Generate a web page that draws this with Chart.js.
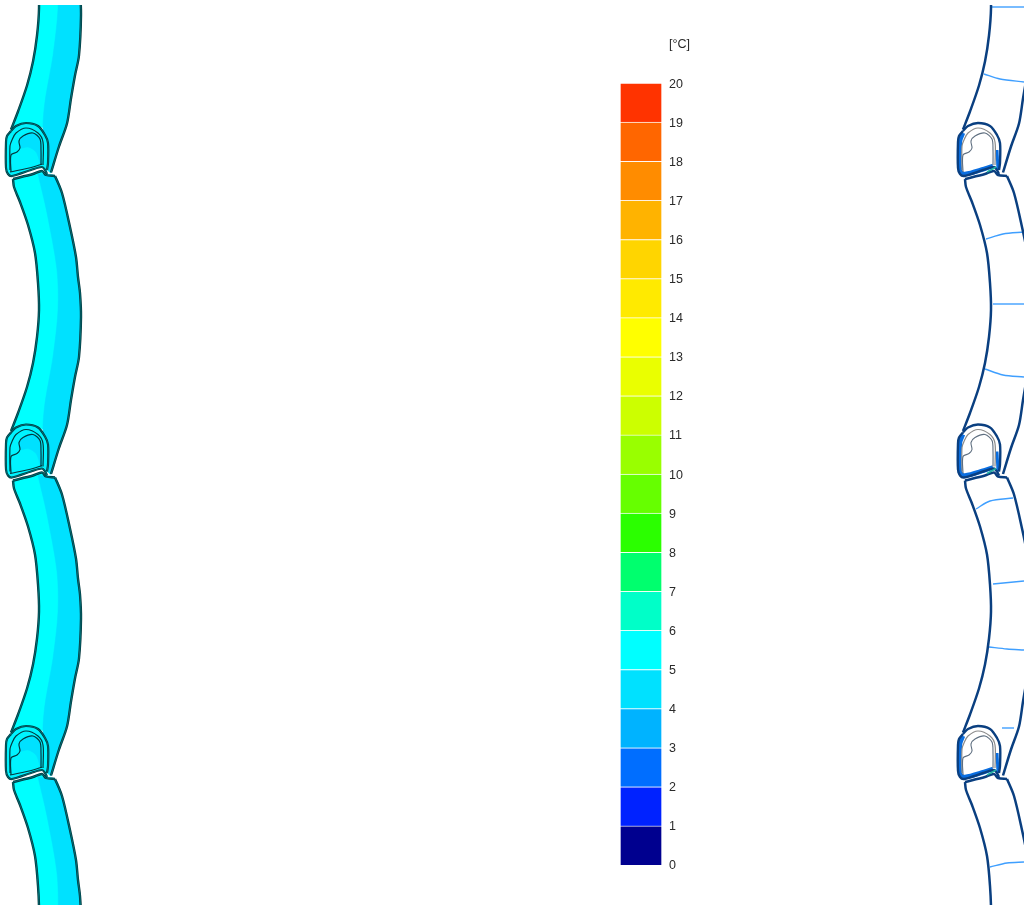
<!DOCTYPE html>
<html lang="en">
<head>
    <meta charset="UTF-8">
    <title>Temperature field [°C]</title>
    <script src="https://cdn.jsdelivr.net/npm/chart.js"></script>
    <style>
        body { margin: 0; background: #ffffff; }
        #profiles { position: absolute; left: 0; top: 0; filter: blur(0.4px); }
        #scale { position: absolute; left: 620px; top: 0; filter: blur(0.3px); }
    </style>
</head>
<body>
    <canvas id="profiles" width="1024" height="905"></canvas>
    <canvas id="scale" width="101" height="905"></canvas>

    <script>
        // colour scale, bottom band first
        const bandColors = ['#00008f', '#0022ff', '#006eff', '#00b3ff', '#00e1ff',
            '#00ffff', '#00ffc8', '#00ff6e', '#2bff00', '#66ff00',
            '#99ff00', '#ccff00', '#eaff00', '#ffff00', '#ffea00',
            '#ffd500', '#ffb300', '#ff8c00', '#ff6600', '#ff3300'];
        const bandSteps = [1, 1, 1, 1, 1, 1, 1, 1, 1, 1, 1, 1, 1, 1, 1, 1, 1, 1, 1, 1];
        const tickValues = [0, 1, 2, 3, 4, 5, 6, 7, 8, 9, 10, 11, 12, 13, 14, 15, 16, 17, 18, 19, 20, 21];
        const tickLabels = ['0', '1', '2', '3', '4', '5', '6', '7', '8', '9', '10', '11', '12', '13', '14', '15', '16', '17', '18', '19', '20', '[°C]'];

        // section geometry
        const panelLeft = [[13, 179], [14, 187], [20, 202], [28, 225], [35, 253], [38, 283], [39, 310], [37, 337], [33, 363], [27, 387], [18, 413], [11, 431]];
        const panelTop = [[13, 179], [33, 174], [42, 171], [46, 175], [55, 176]];
        const panelRight = [[55, 176], [62, 193], [70, 227], [76, 257], [78, 277], [80, 293], [81, 317], [79, 357], [75, 377], [71, 400], [67, 425], [59, 448], [51, 474]];
        const panelBandEdge = [[38, 174], [47, 213], [57, 270], [58, 310], [53, 357], [45, 403], [43, 432], [47, 470], [51, 474]];
        const panelCore = [[11, 431], [46, 431], [47, 470]];

        const clipOuter = [[11, 131], [7, 136], [6, 142], [6, 168], [8, 174], [12, 176], [31, 170], [42, 167], [45, 170], [47, 174]];
        const clipArchOuter = [[11, 131], [16, 126], [26, 123], [38, 126], [45, 135], [48, 143], [48, 163], [47, 170]];
        const clipArchMid = [[10, 170], [10, 146], [12, 140], [16, 133], [26, 128], [38, 133], [43, 142], [43, 165]];
        const clipHook = [[11, 172], [11, 155], [17, 152], [20, 148], [19, 141], [23, 136], [33, 133], [40, 139], [41, 150], [41, 165]];
        const clipPlate = [[10, 172], [33, 167], [42, 164]];
        const clipHot = [[19, 141], [23, 136], [33, 133], [40, 139], [41, 150], [41, 165], [36, 152], [28, 147], [20, 148]];
        const clipBlueBand = [[11, 133], [8, 141], [8, 171], [13, 174], [32, 169], [41, 166]];
        const clipBlueWall = [[45, 150], [46, 170]];
        const clipTeal = [[35, 172], [44, 167]];

        const panelShifts = [-301.5, 0, 301.5, 603];
        const clipShifts = [0, 301.5, 603];
        const rightStripShift = 952;

        // isotherms on the right hand section
        const isotherms = [
            [[992, 7], [1024, 7]],
            [[984, 74], [1000, 79], [1024, 82]],
            [[986, 239], [1003, 234], [1024, 232]],
            [[993, 304], [1024, 304]],
            [[985, 369], [1003, 375], [1024, 377]],
            [[976, 509], [990, 501], [1013, 498]],
            [[993, 584], [1024, 581]],
            [[989, 647], [1007, 649], [1024, 650]],
            [[1002, 728], [1014, 728]],
            [[990, 867], [1007, 863], [1024, 862]]
        ];

        const layers = [];

        function toPoints(path, dx, dy) {
            return path.map(p => ({ x: p[0] + dx, y: p[1] + dy }));
        }

        function addLine(path, dx, dy, color, width) {
            layers.push({ data: toPoints(path, dx, dy), borderColor: color, borderWidth: width, showLine: true, pointRadius: 0, tension: 0.3, fill: false });
        }

        function addFill(path, dx, dy, color) {
            const pts = toPoints(path, dx, dy);
            pts.push(pts[0]);
            layers.push({ data: pts, borderColor: color, borderWidth: 0.5, backgroundColor: color, showLine: true, pointRadius: 0, tension: 0.3, fill: 'shape' });
        }

        // left section, filled
        panelShifts.forEach(dy => {
            addFill(panelLeft.concat(panelCore, panelRight.slice().reverse(), panelTop.slice().reverse()), 0, dy, '#00ffff');
            addFill(panelBandEdge.concat(panelRight.slice().reverse()), 0, dy, '#00e1ff');
            [panelLeft, panelTop, panelRight].forEach(path => {
                addLine(path, 0, dy, '#03393f', 2.4);
                addLine(path, 0, dy, '#00a0a8', 0.5);
            });
        });
        clipShifts.forEach(dy => {
            addFill(clipOuter.concat(clipArchOuter.slice().reverse()), 0, dy, '#00f4ff');
            addFill(clipHot, 0, dy, '#00e1ff');
            [clipOuter, clipArchOuter].forEach(path => {
                addLine(path, 0, dy, '#03393f', 2.2);
                addLine(path, 0, dy, '#00a0a8', 0.5);
            });
            [clipArchMid, clipHook, clipPlate].forEach(path => addLine(path, 0, dy, '#03393f', 1.2));
        });

        // right section, outlines and isotherms
        isotherms.forEach(path => addLine(path, 0, 0, '#3f9fff', 1.4));
        panelShifts.forEach(dy => {
            [panelLeft, panelTop, panelRight].forEach(path => addLine(path, rightStripShift, dy, '#0a3f80', 2.5));
        });
        clipShifts.forEach(dy => {
            addLine(clipBlueBand, rightStripShift, dy, '#0a6ee0', 4.5);
            addLine(clipBlueWall, rightStripShift, dy, '#0a6ee0', 3);
            [clipOuter, clipArchOuter].forEach(path => addLine(path, rightStripShift, dy, '#0a3f80', 2.4));
            addLine(clipArchMid, rightStripShift, dy, '#8a8a8a', 1.2);
            addLine(clipHook, rightStripShift, dy, '#5f6f80', 1.1);
            addLine(clipTeal, rightStripShift, dy, '#20b0a0', 1.5);
        });

        new Chart(document.getElementById('profiles'), {
            type: 'scatter',
            // first dataset is painted last, so flip the list
            data: { datasets: layers.reverse() },
            options: {
                responsive: false,
                animation: false,
                layout: { padding: { top: 5 } },
                plugins: { legend: { display: false }, tooltip: { enabled: false } },
                scales: {
                    x: { type: 'linear', min: 0, max: 1024, display: false },
                    y: { type: 'linear', min: 5, max: 905, reverse: true, display: false }
                }
            }
        });

        new Chart(document.getElementById('scale'), {
            type: 'bar',
            data: {
                labels: ['T'],
                datasets: bandColors.map((color, i) => ({
                    data: [bandSteps[i]],
                    backgroundColor: color,
                    borderColor: 'rgba(255,255,255,0.65)',
                    borderWidth: 1,
                    barPercentage: 1,
                    categoryPercentage: 1
                }))
            },
            options: {
                responsive: false,
                animation: false,
                layout: { padding: { top: 44, bottom: 40 } },
                plugins: { legend: { display: false }, tooltip: { enabled: false } },
                scales: {
                    x: { stacked: true, display: false },
                    y: {
                        stacked: true,
                        position: 'right',
                        min: 0,
                        max: 21,
                        grid: { display: false, drawTicks: false },
                        border: { display: false },
                        afterBuildTicks: axis => { axis.ticks = tickValues.map(v => ({ value: v })); },
                        afterFit: axis => { axis.width = 59; },
                        ticks: {
                            autoSkip: false,
                            padding: 7,
                            labelOffset: 1,
                            color: '#2a2a2a',
                            font: { family: 'Liberation Sans', size: 12.5 },
                            callback: (value, i) => tickLabels[i]
                        }
                    }
                }
            }
        });
    </script>
</body>
</html>
